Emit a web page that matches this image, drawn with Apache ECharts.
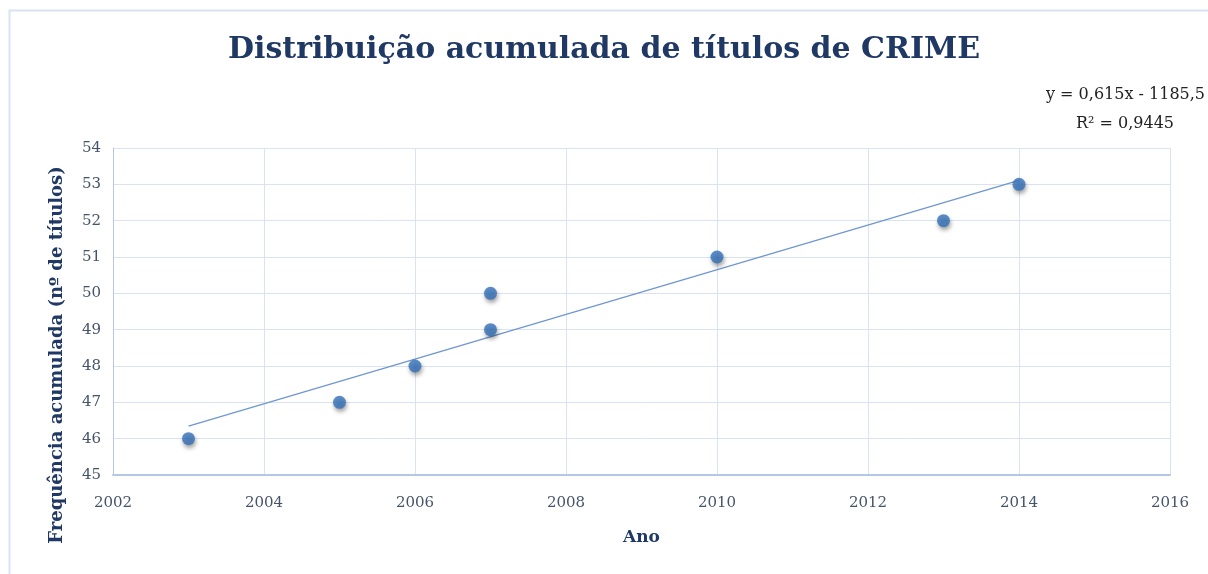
<!DOCTYPE html>
<html>
<head>
<meta charset="utf-8">
<script src="https://cdn.jsdelivr.net/npm/echarts@6/dist/echarts.min.js"></script>
<style>
  html, body { margin: 0; padding: 0; background: #fff; }
  #chart { width: 1208px; height: 574px; }
</style>
</head>
<body>
<div id="chart"></div>
<script>
// data
const years = [2003, 2005, 2006, 2007, 2007, 2010, 2013, 2014]
const counts = [46, 47, 48, 50, 49, 51, 52, 53]
// linear trendline as printed on the chart
const slope = 0.615
const intercept = -1185.5
const trendYears = [2003, 2014]
const eqText = 'y = 0,615x - 1185,5'
const r2Text = 'R² = 0,9445'

const font = '"DejaVu Serif", "Liberation Serif", serif'
const ink = '#1f3864'
const tickInk = '#44546a'

const chart = echarts.init(document.getElementById('chart'))

chart.setOption({
  animation: false,
  backgroundColor: '#fff',
  title: [
    {
      text: 'Distribuição acumulada de títulos de CRIME',
      left: 'center',
      top: 30,
      textStyle: { fontFamily: font, fontSize: 30, fontWeight: 'bold', color: ink }
    }
  ],
  graphic: [
    { type: 'rect', left: 7, top: 8, shape: { width: 1220, height: 600 }, style: { fill: 'none', stroke: '#dae3f3', lineWidth: 2 } },
    { type: 'text', right: 3, top: 87, style: { text: eqText, font: '16px ' + font, fill: '#222' } },
    { type: 'text', right: 34, top: 116, style: { text: r2Text, font: '16px ' + font, fill: '#222' } },
    {
      type: 'text',
      x: 57,
      y: 355,
      rotation: Math.PI / 2,
      style: {
        text: 'Frequência acumulada (nº de títulos)',
        font: 'bold 18px ' + font,
        fill: ink,
        align: 'center',
        verticalAlign: 'middle'
      }
    }
  ],
  grid: { left: 113, right: 38, top: 148, bottom: 99 },
  xAxis: {
    type: 'value',
    min: 2002,
    max: 2016,
    interval: 2,
    name: 'Ano',
    nameLocation: 'middle',
    nameGap: 54,
    nameTextStyle: { fontFamily: font, fontSize: 17, fontWeight: 'bold', color: ink },
    axisLine: { show: true, lineStyle: { color: '#b4c7e7', width: 2 } },
    axisTick: { show: false },
    axisLabel: { fontFamily: font, fontSize: 15, color: tickInk, margin: 21, formatter: (v) => String(v) },
    splitLine: { show: true, lineStyle: { color: '#dae3f3', width: 1 } }
  },
  yAxis: {
    type: 'value',
    min: 45,
    max: 54,
    interval: 1,
    axisLine: { show: true, lineStyle: { color: '#b4c7e7', width: 1 } },
    axisTick: { show: false },
    axisLabel: { fontFamily: font, fontSize: 15, color: tickInk, margin: 12 },
    splitLine: { show: true, lineStyle: { color: '#dae3f3', width: 1 } }
  },
  series: [
    {
      type: 'line',
      data: trendYears.map((x) => [x, slope * x + intercept]),
      showSymbol: false,
      lineStyle: { color: '#6f97cf', width: 1.3 },
      silent: true,
      z: 2
    },
    {
      type: 'scatter',
      data: years.map((x, i) => [x, counts[i]]),
      symbolSize: 13,
      itemStyle: {
        color: '#3470b9',
        shadowColor: 'rgba(0,0,0,0.45)',
        shadowBlur: 4,
        shadowOffsetX: 1,
        shadowOffsetY: 3
      },
      z: 3
    }
  ]
})
</script>
</body>
</html>
